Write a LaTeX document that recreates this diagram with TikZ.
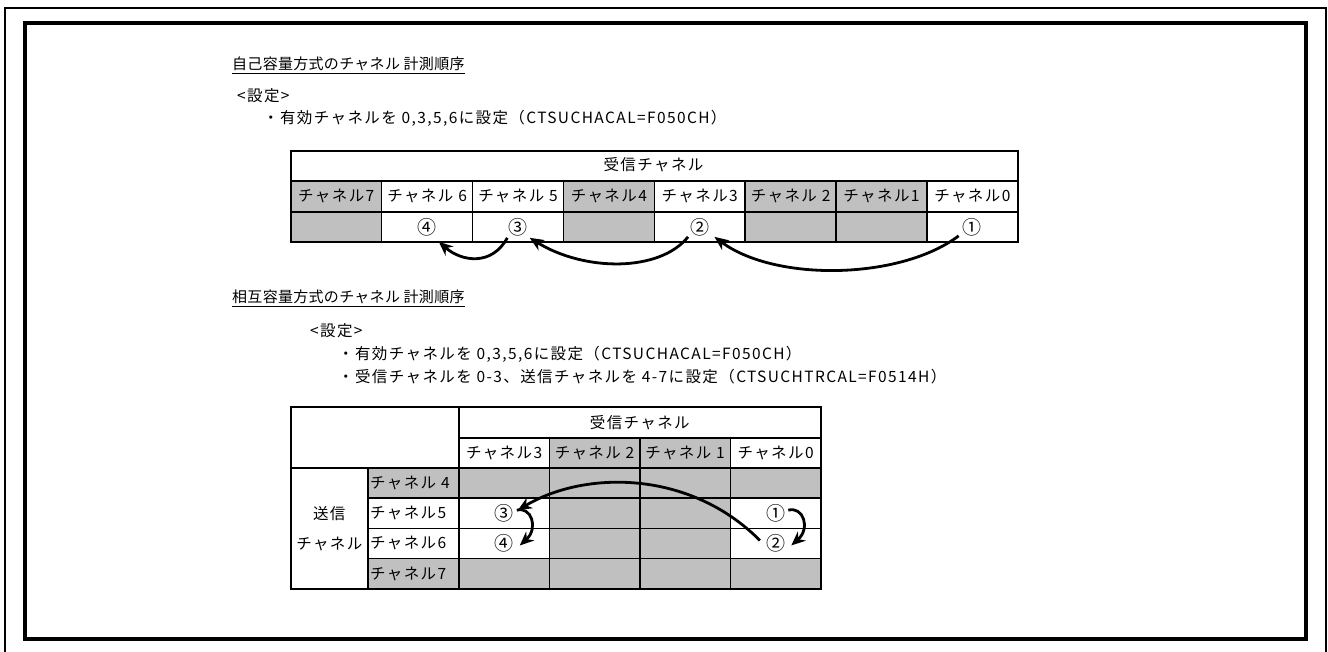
\documentclass[tikz,border=0pt]{standalone}
\usepackage{fontspec}
\setmainfont{Noto Sans CJK JP}[LetterSpace=9]
\newfontfamily\titlefont{Noto Sans CJK JP}[LetterSpace=2]
\newfontfamily\circfont{Noto Sans CJK JP}
\usetikzlibrary{arrows.meta,calc}
\begin{document}
\begin{tikzpicture}[x=1pt,y=-1pt,
  font=\fontsize{15.5}{18}\selectfont,
  txt/.style={anchor=west,inner sep=0pt},
  ttl/.style={anchor=west,inner sep=0pt,font=\titlefont\fontsize{15}{18}\selectfont},
  cellw/.style={draw=black,line width=1.6pt,fill=white,inner sep=0pt,anchor=north west},
  cellg/.style={cellw,fill=cellgray},
  num/.style={inner sep=0pt,font=\circfont\fontsize{19}{20}\selectfont},
  flow/.style={line width=2.8pt,-{Stealth[length=14pt,width=12pt]}}]
\definecolor{cellgray}{RGB}{192,192,192}
\useasboundingbox (0,0) rectangle (1328,652);
\fill[white] (0,0) rectangle (1328,652);
% frames
\draw[line width=2pt] (5,652) -- (5,8) -- (1326,8) -- (1326,652);
\draw[line width=4pt] (25,23) rectangle (1306,639);
% section 1 text
\node[ttl] (ti1) at (232,64) {自己容量方式のチャネル 計測順序};
\draw[line width=1pt] ($(ti1.south west)+(0,2)$) -- ($(ti1.south east)+(0,2)$);
\node[txt] (set1) at (237,96) {<設定>};
\node[txt] (l11) at (263,118) {・有効チャネルを 0,3,5,6に設定（CTSUCHACAL=F050CH）};
% table 1
\node[cellw,minimum width=727pt,minimum height=30pt] (t1top) at (290,150) {};
\node (t1title) at (653.5,165) {受信チャネル};
\foreach \i/\f/\lab/\n in {0/cellg/チャネル7/,1/cellw/チャネル 6/④,2/cellw/チャネル 5/③,3/cellg/チャネル4/,4/cellw/チャネル3/②,5/cellg/チャネル 2/,6/cellg/チャネル1/,7/cellw/チャネル0/①}{
  \node[\f,minimum width=90.9pt,minimum height=31pt] (t1h\i) at (290+90.875*\i,180) {};
  \node[inner sep=0pt] (t1hl\i) at (t1h\i.center) {\lab};
  \node[\f,minimum width=90.9pt,minimum height=30pt] (t1c\i) at (290+90.875*\i,211) {};
  \node[num] (t1n\i) at (t1c\i.center) {\n};
}
% arrows table 1
\draw[flow] ($(t1n7.south west)+(-4,0)$) .. controls (900,280) and (775,282) .. ($(t1n4.south east)+(5,1)$);
\draw[flow] ($(t1n4.south west)+(-2,1)$) .. controls (660,272) and (585,272) .. ($(t1n2.south east)+(2,2)$);
\draw[flow] ($(t1n2.south west)+(-1,2)$) .. controls (492,266) and (462,262) .. ($(t1n1.south east)+(2,6)$);
% section 2 text
\node[ttl] (ti2) at (232,297) {相互容量方式のチャネル 計測順序};
\draw[line width=1pt] ($(ti2.south west)+(0,2)$) -- ($(ti2.south east)+(0,2)$);
\node[txt] (set2) at (310,331) {<設定>};
\node[txt] (l21) at (338,354) {・有効チャネルを 0,3,5,6に設定（CTSUCHACAL=F050CH）};
\node[txt] (l22) at (338,377) {・受信チャネルを 0-3、送信チャネルを 4-7に設定（CTSUCHTRCAL=F0514H）};
% table 2
\node[cellw,minimum width=168pt,minimum height=61pt] (t2corner) at (290,406) {};
\node[cellw,minimum width=362pt,minimum height=31pt] (t2top) at (458,406) {};
\node (t2title) at (t2top.center) {受信チャネル};
\foreach \i/\f/\lab in {0/cellw/チャネル3,1/cellg/チャネル 2,2/cellg/チャネル 1,3/cellw/チャネル0}{
  \node[\f,minimum width=90.6pt,minimum height=30pt] (t2h\i) at (458+90.5*\i,437) {};
  \node[inner sep=0pt] (t2hl\i) at (t2h\i.center) {\lab};
}
\node[cellw,minimum width=77pt,minimum height=121pt] (t2send) at (290,467) {};
\node[align=center,inner sep=0pt,font=\fontsize{15.5}{30}\selectfont] (t2sendl) at (t2send.center) {送信\\チャネル};
\foreach \r/\f/\lab in {0/cellg/チャネル 4,1/cellw/チャネル5,2/cellw/チャネル6,3/cellg/チャネル7}{
  \node[\f,minimum width=91pt,minimum height=30.3pt] (t2r\r) at (367,467+30.25*\r) {};
  \node[anchor=west,inner sep=0pt] (t2rl\r) at ($(t2r\r.west)+(3,0)$) {\lab};
}
\foreach \r/\fa/\fb/\fc/\fd in {0/cellg/cellg/cellg/cellg,1/cellw/cellg/cellg/cellw,2/cellw/cellg/cellg/cellw,3/cellg/cellg/cellg/cellg}{
  \node[\fa,minimum width=90.6pt,minimum height=30.3pt] (t2c\r a) at (458,467+30.25*\r) {};
  \node[\fb,minimum width=90.6pt,minimum height=30.3pt] (t2c\r b) at (548.5,467+30.25*\r) {};
  \node[\fc,minimum width=90.6pt,minimum height=30.3pt] (t2c\r c) at (639,467+30.25*\r) {};
  \node[\fd,minimum width=90.6pt,minimum height=30.3pt] (t2c\r d) at (729.5,467+30.25*\r) {};
}
\node[num] (m3) at (t2c1a.center) {③};
\node[num] (m4) at (t2c2a.center) {④};
\node[num] (m1) at (t2c1d.center) {①};
\node[num] (m2) at (t2c2d.center) {②};
% arrows table 2
\draw[flow] ($(m1.east)+(3,-3)$) .. controls (803,506) and (811,528) .. ($(m2.east)+(6,2)$);
\draw[flow] ($(m3.east)+(3,-3)$) .. controls (531,506) and (539,528) .. ($(m4.east)+(6,2)$);
\draw[flow] ($(m2.west)+(-6,-3)$) .. controls (690,470) and (585,470) .. ($(m3.east)+(4,-3)$);
\end{tikzpicture}
\end{document}
